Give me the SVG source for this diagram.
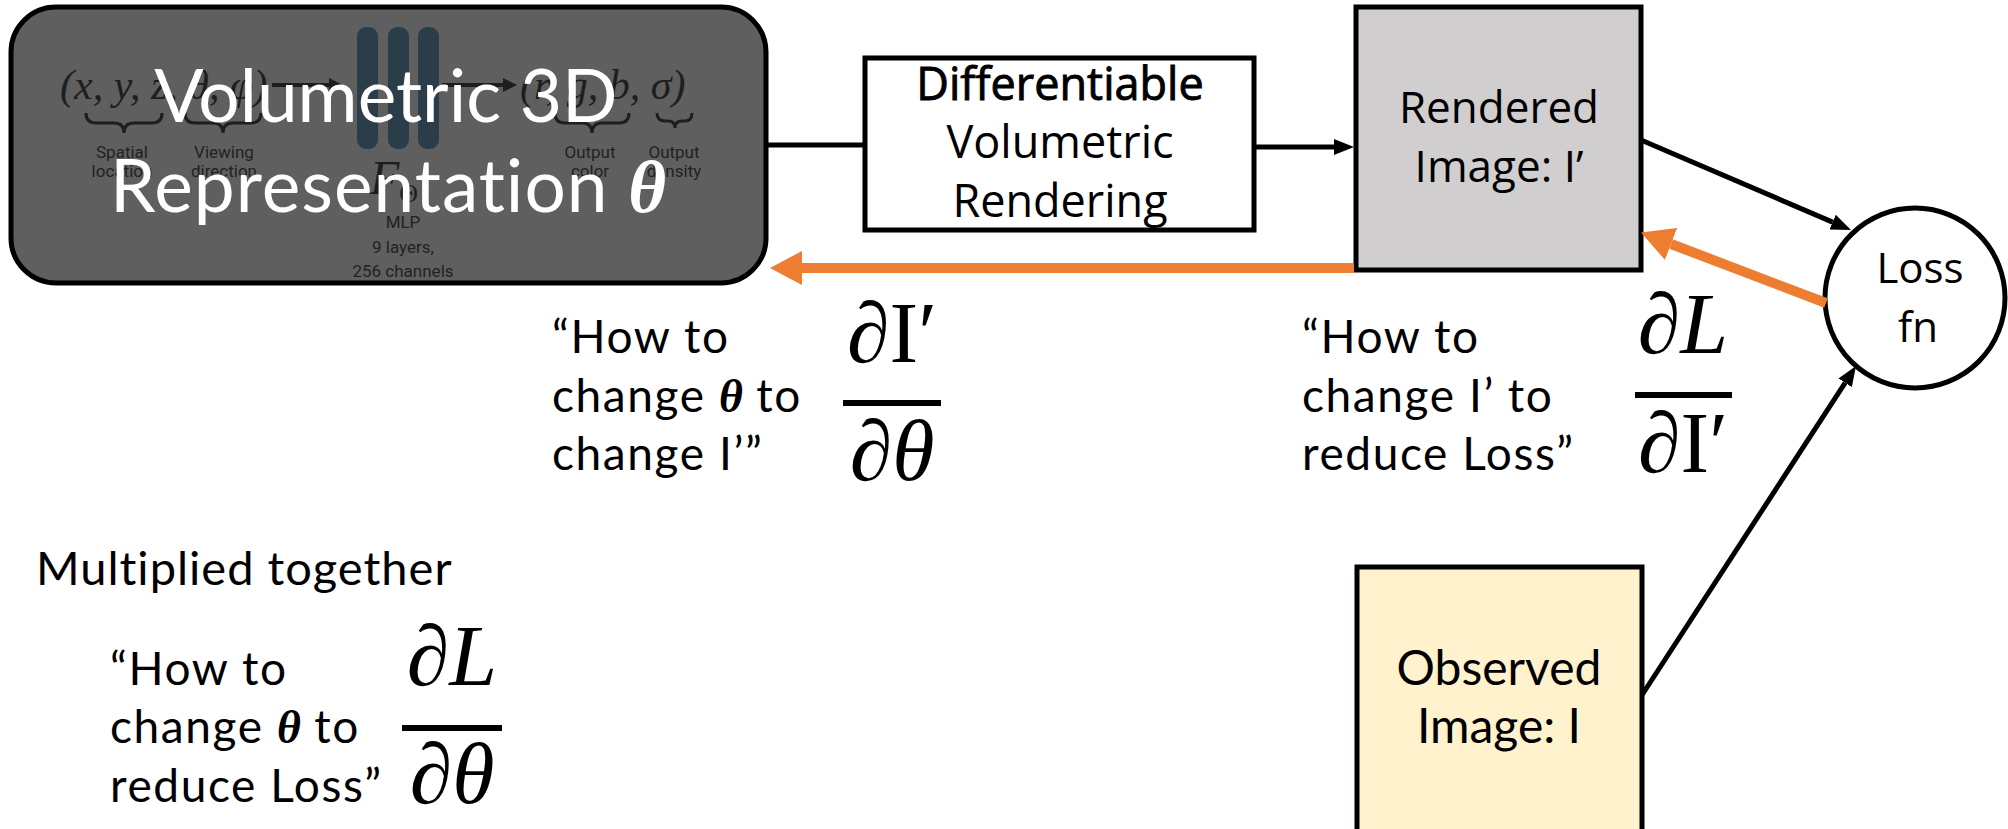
<svg xmlns="http://www.w3.org/2000/svg" width="2008" height="829" viewBox="0 0 2008 829">
<style>
.box{stroke:#000;stroke-width:5}
.av{font-family:Lato,"Open Sans",sans-serif;fill:#000}
.lb{font-family:Lato,"Open Sans",sans-serif;fill:#000;font-size:46px;letter-spacing:1.6px}
.sg{font-family:"Open Sans","Noto Sans",sans-serif;fill:#000}
.math{font-family:"Liberation Serif","DejaVu Serif",serif;fill:#000}
.th{font-family:"Liberation Serif",serif;font-style:italic;font-weight:bold;letter-spacing:0}
.ghost{fill:#1e1e1e}
.gl{font-family:Roboto,"Liberation Sans",sans-serif;font-size:17px;fill:#222;text-anchor:middle}
.brace{fill:none;stroke:#1e1e1e;stroke-width:3}
.blk{stroke:#000;stroke-width:5;fill:none}
.org{stroke:#ED7D31;stroke-width:10;fill:none}
.bar{fill:#000}
</style>
<defs>
<marker id="ab" viewBox="0 0 20 16" refX="0" refY="8" markerWidth="20" markerHeight="16" markerUnits="userSpaceOnUse" orient="auto"><path d="M0,0 L20,8 L0,16 z" fill="#000"/></marker>
<marker id="ao" viewBox="0 0 32 34" refX="0" refY="17" markerWidth="32" markerHeight="34" markerUnits="userSpaceOnUse" orient="auto"><path d="M0,0 L32,17 L0,34 z" fill="#ED7D31"/></marker>
<marker id="as" viewBox="0 0 14 14" refX="0" refY="7" markerWidth="14" markerHeight="14" markerUnits="userSpaceOnUse" orient="auto"><path d="M0,0 L14,7 L0,14 z" fill="#1e1e1e"/></marker>
</defs>

<g id="volumetric-representation">
<rect class="box" x="11" y="7" width="755" height="276" rx="45" fill="#5f5f5f"/>
<g id="nerf-figure">
<text class="ghost" x="60" y="99" font-family="Liberation Serif,serif" font-style="italic" font-size="42">(x, y, z, θ, φ)</text>
<line x1="272" y1="85" x2="329" y2="85" stroke="#1e1e1e" stroke-width="4" marker-end="url(#as)"/>
<rect x="357" y="27" width="21" height="122" rx="9" fill="#2c3d4a"/>
<rect x="388" y="27" width="21" height="122" rx="9" fill="#2c3d4a"/>
<rect x="418" y="27" width="21" height="122" rx="9" fill="#2c3d4a"/>
<line x1="442" y1="85" x2="503" y2="85" stroke="#1e1e1e" stroke-width="4" marker-end="url(#as)"/>
<text class="ghost" x="520" y="99" font-family="Liberation Serif,serif" font-style="italic" font-size="42">(r, g, b, σ)</text>
<path class="brace" d="M86,113 Q86,123 96,123 L114,123 Q124,123 124,133 Q124,123 134,123 L152,123 Q162,123 162,113"/>
<path class="brace" d="M185,113 Q185,123 195,123 L213,123 Q223,123 223,133 Q223,123 233,123 L251,123 Q261,123 261,113"/>
<path class="brace" d="M555,113 Q555,123 565,123 L582,123 Q592,123 592,133 Q592,123 602,123 L619,123 Q629,123 629,113"/>
<path class="brace" d="M657,113 Q657,121 665,121 L668,121 Q675,121 675,128 Q675,121 682,121 L685,121 Q692,121 692,113"/>
<text class="gl" x="122" y="158">Spatial</text>
<text class="gl" x="122" y="177">location</text>
<text class="gl" x="224" y="158">Viewing</text>
<text class="gl" x="224" y="177">direction</text>
<text class="gl" x="590" y="158">Output</text>
<text class="gl" x="590" y="177">color</text>
<text class="gl" x="674" y="158">Output</text>
<text class="gl" x="674" y="177">density</text>
<text class="ghost" x="370" y="194" font-family="Liberation Serif,serif" font-style="italic" font-size="48">F<tspan font-size="26" dy="8" font-style="normal">Θ</tspan></text>
<text class="gl" x="403" y="228" font-size="20">MLP</text>
<text class="gl" x="403" y="253" font-size="20">9 layers,</text>
<text class="gl" x="403" y="277" font-size="20">256 channels</text>
</g>
<text x="386" y="122" font-family="Lato,sans-serif" font-size="73" fill="#fff" text-anchor="middle">Volumetric 3D</text>
<text x="388" y="212" font-family="Lato,sans-serif" font-size="73" letter-spacing="1" fill="#fff" text-anchor="middle">Representation <tspan class="th">θ</tspan></text>
</g>

<g id="differentiable-rendering">
<rect class="box" x="865" y="58" width="389" height="172" fill="#fff"/>
<text class="sg" x="1060" y="100" font-size="45" stroke="#000" stroke-width="0.9" text-anchor="middle">Differentiable</text>
<text class="sg" x="1060" y="158" font-size="45" text-anchor="middle">Volumetric</text>
<text class="sg" x="1060" y="217" font-size="45" text-anchor="middle">Rendering</text>
</g>

<g id="rendered-image">
<rect class="box" x="1356" y="7" width="285" height="263" fill="#d0cece"/>
<text class="sg" x="1499" y="123" font-size="44" text-anchor="middle">Rendered</text>
<text class="sg" x="1499" y="182" font-size="44" text-anchor="middle">Image: I’</text>
</g>

<g id="loss-fn">
<circle class="box" cx="1915" cy="298" r="90" fill="#fff"/>
<text class="sg" x="1920" y="283" font-size="42" text-anchor="middle">Loss</text>
<text class="sg" x="1918" y="342" font-size="42" text-anchor="middle">fn</text>
</g>

<g id="observed-image">
<rect class="box" x="1357" y="567" width="285" height="280" fill="#fff2cc"/>
<text class="av" x="1499" y="685" font-size="48" text-anchor="middle">Observed</text>
<text class="av" x="1499" y="743" font-size="48" text-anchor="middle">Image: I</text>
</g>

<g id="connectors">
<line class="blk" x1="766" y1="145" x2="865" y2="145"/>
<line class="blk" x1="1254" y1="147" x2="1334" y2="147" marker-end="url(#ab)"/>
<line class="blk" x1="1641" y1="140" x2="1832.6" y2="222.1" marker-end="url(#ab)"/>
<line class="blk" x1="1642" y1="695" x2="1845.1" y2="382.8" marker-end="url(#ab)"/>
<line class="org" x1="1354" y1="268" x2="802" y2="268" marker-end="url(#ao)"/>
<line class="org" x1="1826" y1="303" x2="1671" y2="244" marker-end="url(#ao)"/>
</g>

<g id="label-dI-dtheta">
<text class="lb"><tspan x="552" y="353">“How to</tspan><tspan x="552" y="412">change <tspan class="th">θ</tspan> to</tspan><tspan x="552" y="470">change I’”</tspan></text>
<text class="math" x="892" y="362" font-size="86" text-anchor="middle">∂I′</text>
<rect class="bar" x="843" y="400" width="98" height="6"/>
<text class="math" x="892" y="480" font-size="86" text-anchor="middle">∂<tspan font-style="italic">θ</tspan></text>
</g>

<g id="label-dL-dI">
<text class="lb"><tspan x="1302" y="353">“How to</tspan><tspan x="1302" y="412">change I’ to</tspan><tspan x="1302" y="470">reduce Loss”</tspan></text>
<text class="math" x="1683" y="353" font-size="86" text-anchor="middle">∂<tspan font-style="italic">L</tspan></text>
<rect class="bar" x="1635" y="392" width="97" height="6"/>
<text class="math" x="1683" y="472" font-size="86" text-anchor="middle">∂I′</text>
</g>

<g id="label-dL-dtheta">
<text class="av" x="36" y="585" font-size="47" letter-spacing="1">Multiplied together</text>
<text class="lb"><tspan x="110" y="685">“How to</tspan><tspan x="110" y="743">change <tspan class="th">θ</tspan> to</tspan><tspan x="110" y="802">reduce Loss”</tspan></text>
<text class="math" x="452" y="685" font-size="86" text-anchor="middle">∂<tspan font-style="italic">L</tspan></text>
<rect class="bar" x="402" y="725" width="100" height="6"/>
<text class="math" x="452" y="803" font-size="86" text-anchor="middle">∂<tspan font-style="italic">θ</tspan></text>
</g>
</svg>
